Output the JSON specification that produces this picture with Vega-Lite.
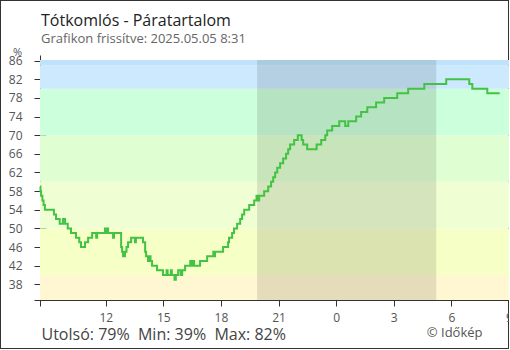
{
  "$schema": "https://vega.github.io/schema/vega-lite/v6.json",
  "width": 509,
  "height": 349,
  "autosize": "none",
  "padding": 0,
  "background": "white",
  "config": {
    "view": {"stroke": "#333333", "strokeWidth": 2},
    "font": "Open Sans",
    "axis": {"domainColor": "#333333", "tickColor": "#333333", "labelColor": "#555555", "labelFont": "Open Sans", "labelFontSize": 12, "grid": false, "titleFont": "Open Sans", "titleFontWeight": "normal"}
  },
  "title": {
    "text": "Tótkomlós - Páratartalom",
    "subtitle": "Grafikon frissítve: 2025.05.05 8:31",
    "anchor": "start",
    "frame": "group",
    "orient": "top",
    "dx": 41,
    "offset": -66,
    "font": "Open Sans",
    "fontSize": 16,
    "fontWeight": "normal",
    "color": "#222222",
    "subtitleFont": "Open Sans",
    "subtitleFontSize": 13,
    "subtitleColor": "#666666",
    "subtitlePadding": 4
  },
  "datasets": {
    "bands": [
      {"zone": "<40", "lo": 34.63, "hi": 40},
      {"zone": "40-50", "lo": 40, "hi": 50},
      {"zone": "50-60", "lo": 50, "hi": 60},
      {"zone": "60-70", "lo": 60, "hi": 70},
      {"zone": "70-80", "lo": 70, "hi": 80},
      {"zone": "80-85", "lo": 80, "hi": 85},
      {"zone": ">85", "lo": 85, "hi": 86.15}
    ],
    "night": [{"start": 19.88, "end": 29.21}],
    "humidity": [
      {"t": 8.575, "v": 59}, {"t": 8.6, "v": 58}, {"t": 8.63, "v": 57}, {"t": 8.7, "v": 56}, {"t": 8.76, "v": 55},
      {"t": 8.83, "v": 54}, {"t": 9.3, "v": 53}, {"t": 9.41, "v": 52}, {"t": 9.6, "v": 51}, {"t": 9.77, "v": 52},
      {"t": 9.88, "v": 51}, {"t": 10.02, "v": 50}, {"t": 10.19, "v": 49}, {"t": 10.45, "v": 48}, {"t": 10.62, "v": 47},
      {"t": 10.71, "v": 46}, {"t": 10.92, "v": 47}, {"t": 11.08, "v": 48}, {"t": 11.29, "v": 49}, {"t": 11.5, "v": 48},
      {"t": 11.55, "v": 49}, {"t": 11.96, "v": 50}, {"t": 12.01, "v": 49}, {"t": 12.07, "v": 50}, {"t": 12.12, "v": 49},
      {"t": 12.38, "v": 48}, {"t": 12.43, "v": 49}, {"t": 12.8, "v": 46}, {"t": 12.85, "v": 45}, {"t": 12.9, "v": 44},
      {"t": 13.0, "v": 45}, {"t": 13.08, "v": 46}, {"t": 13.16, "v": 47}, {"t": 13.32, "v": 48}, {"t": 13.52, "v": 47},
      {"t": 13.57, "v": 48}, {"t": 13.94, "v": 47}, {"t": 14.05, "v": 45}, {"t": 14.1, "v": 44}, {"t": 14.2, "v": 43},
      {"t": 14.28, "v": 44}, {"t": 14.33, "v": 43}, {"t": 14.41, "v": 42}, {"t": 14.67, "v": 41}, {"t": 14.98, "v": 40},
      {"t": 15.17, "v": 41}, {"t": 15.22, "v": 40}, {"t": 15.39, "v": 41}, {"t": 15.44, "v": 40}, {"t": 15.58, "v": 39},
      {"t": 15.65, "v": 40}, {"t": 15.77, "v": 41}, {"t": 15.9, "v": 40}, {"t": 15.98, "v": 41}, {"t": 16.13, "v": 42},
      {"t": 16.4, "v": 43}, {"t": 16.45, "v": 42}, {"t": 16.55, "v": 43}, {"t": 16.6, "v": 42}, {"t": 16.91, "v": 43},
      {"t": 17.28, "v": 44}, {"t": 17.6, "v": 45}, {"t": 17.65, "v": 44}, {"t": 17.69, "v": 45}, {"t": 18.11, "v": 46},
      {"t": 18.37, "v": 47}, {"t": 18.42, "v": 48}, {"t": 18.58, "v": 49}, {"t": 18.68, "v": 50}, {"t": 18.84, "v": 51},
      {"t": 19.0, "v": 52}, {"t": 19.1, "v": 53}, {"t": 19.21, "v": 54}, {"t": 19.47, "v": 55}, {"t": 19.73, "v": 56},
      {"t": 19.85, "v": 57}, {"t": 19.9, "v": 56}, {"t": 19.99, "v": 57}, {"t": 20.25, "v": 58}, {"t": 20.46, "v": 59},
      {"t": 20.61, "v": 60}, {"t": 20.72, "v": 61}, {"t": 20.82, "v": 62}, {"t": 20.93, "v": 63}, {"t": 21.08, "v": 64},
      {"t": 21.24, "v": 65}, {"t": 21.39, "v": 66}, {"t": 21.5, "v": 67}, {"t": 21.6, "v": 68}, {"t": 21.81, "v": 69},
      {"t": 22.0, "v": 70}, {"t": 22.2, "v": 69}, {"t": 22.28, "v": 68}, {"t": 22.49, "v": 67}, {"t": 22.98, "v": 68},
      {"t": 23.22, "v": 69}, {"t": 23.43, "v": 70}, {"t": 23.53, "v": 71}, {"t": 23.79, "v": 72}, {"t": 24.16, "v": 73},
      {"t": 24.47, "v": 72}, {"t": 24.63, "v": 73}, {"t": 25.04, "v": 74}, {"t": 25.3, "v": 75}, {"t": 25.62, "v": 76},
      {"t": 26.08, "v": 77}, {"t": 26.5, "v": 78}, {"t": 27.18, "v": 79}, {"t": 27.75, "v": 80}, {"t": 28.59, "v": 81},
      {"t": 29.73, "v": 82}, {"t": 30.93, "v": 81}, {"t": 31.09, "v": 80}, {"t": 31.87, "v": 79}, {"t": 32.52, "v": 79}
    ]
  },
  "layer": [
    {
      "data": {"name": "bands"},
      "mark": {"type": "rect"},
      "encoding": {
        "x": {"datum": 8.575, "type": "quantitative", "scale": {"domain": [8.575, 33], "range": [40, 509], "nice": false, "zero": false}, "axis": null},
        "x2": {"datum": 33},
        "y": {"field": "lo", "type": "quantitative", "scale": {"domain": [34.63, 87.22], "range": [300, 55], "nice": false, "zero": false},
          "axis": {"orient": "left", "offset": -40, "values": [34.63, 38, 42, 46, 50, 54, 58, 62, 66, 70, 74, 78, 82, 86], "tickSize": 6, "labelPadding": 12,
            "labelExpr": "datum.value < 36 ? '' : datum.label", "title": "%", "titleAngle": 0, "titleX": -23, "titleY": 55, "titleAlign": "center", "titleBaseline": "alphabetic", "titleFontSize": 11, "titleColor": "#555555"}},
        "y2": {"field": "hi"},
        "color": {"field": "zone", "type": "nominal", "legend": null,
          "scale": {"domain": ["<40", "40-50", "50-60", "60-70", "70-80", "80-85", ">85"], "range": ["#fff7d1", "#f5ffc6", "#efffd3", "#dfffd2", "#ccffdb", "#cce9fe", "#bfe3fb"]}}
      }
    },
    {
      "data": {"name": "night"},
      "mark": {"type": "rect", "color": "#000000", "opacity": 0.105},
      "encoding": {
        "x": {"field": "start", "type": "quantitative",
          "axis": {"orient": "bottom", "offset": -49, "values": [8.575, 12, 15, 18, 21, 24, 27, 30, 33], "tickSize": 6, "labelPadding": 6, "labelFlush": false, "labelOverlap": false,
            "labelExpr": "datum.value < 9 ? '' : format(datum.value % 24, 'd')",
            "title": "Utolsó: 79%\u00a0\u00a0Min: 39%\u00a0\u00a0Max: 82%", "titleX": 41, "titleY": 39, "titleAlign": "left", "titleAnchor": null, "titleBaseline": "alphabetic", "titleFontSize": 16, "titleColor": "#444444"}},
        "x2": {"field": "end"},
        "y": {"datum": 86.15, "type": "quantitative"},
        "y2": {"datum": 34.63}
      }
    },
    {
      "mark": {"type": "rule", "color": "#1e90e6", "strokeWidth": 1},
      "encoding": {
        "x": {"datum": 24, "type": "quantitative"},
        "y": {"datum": 86.15, "type": "quantitative"},
        "y2": {"datum": 34.63}
      }
    },
    {
      "data": {"name": "humidity"},
      "mark": {"type": "line", "interpolate": "step-after", "color": "#44c244", "strokeWidth": 2},
      "encoding": {
        "x": {"field": "t", "type": "quantitative",
          "axis": {"orient": "bottom", "offset": -55, "values": [8.575, 12, 15, 18, 21, 24, 27, 30, 33], "tickSize": 6, "labels": false, "domain": false,
            "title": "© Időkép", "titleX": 482, "titleY": 42, "titleAlign": "right", "titleAnchor": null, "titleBaseline": "alphabetic", "titleFontSize": 13, "titleColor": "#555555"}},
        "y": {"field": "v", "type": "quantitative",
          "axis": {"orient": "left", "offset": -46, "values": [34.63, 38, 42, 46, 50, 54, 58, 62, 66, 70, 74, 78, 82, 86], "tickSize": 6, "labels": false, "domain": false, "title": null}}
      }
    }
  ],
  "resolve": {"axis": {"x": "independent", "y": "independent"}}
}
